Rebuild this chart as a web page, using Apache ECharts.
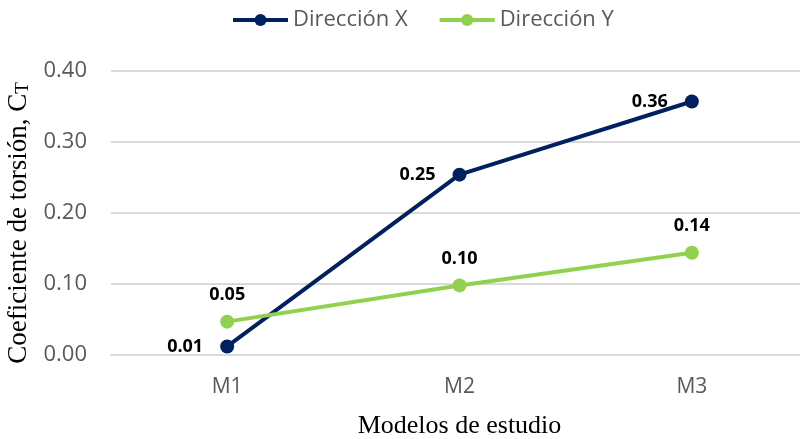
<!DOCTYPE html>
<html>
<head>
<meta charset="utf-8">
<script src="https://cdn.jsdelivr.net/npm/echarts@6/dist/echarts.min.js"></script>
<style>
  html, body { margin: 0; padding: 0; background: #fff; }
  #chart { width: 800px; height: 439px; }
</style>
</head>
<body>
<div id="chart"></div>
<script>
// datos
const modelos = ['M1', 'M2', 'M3'];
const direccionX = [0.012, 0.254, 0.357];
const direccionY = [0.047, 0.098, 0.144];
const yTicks = [0, 0.1, 0.2, 0.3, 0.4];

const chart = echarts.init(document.getElementById('chart'));

const labelStyle = {
  show: true,
  fontFamily: 'Open Sans',
  fontWeight: 'bold',
  fontSize: 18,
  color: '#000000',
  formatter: p => p.value.toFixed(2),
};

chart.setOption({
  animation: false,
  legend: {
    top: 4,
    left: 226,
    itemWidth: 55,
    itemHeight: 15,
    itemGap: 30,
    lineStyle: { width: 4 },
    textStyle: {
      fontFamily: 'Open Sans',
      fontSize: 22,
      color: '#595959',
    },
    data: ['Dirección X', 'Dirección Y'],
  },
  grid: {
    left: 111,
    right: -8,
    top: 71,
    bottom: 84,
    outerBoundsMode: 'none',
  },
  xAxis: {
    type: 'category',
    data: modelos,
    boundaryGap: true,
    axisTick: { show: false },
    axisLine: { lineStyle: { color: '#d9d9d9', width: 2 } },
    axisLabel: {
      fontFamily: 'Open Sans',
      fontSize: 21,
      color: '#595959',
      margin: 22,
    },
    name: 'Modelos de estudio',
    nameLocation: 'middle',
    nameGap: 58,
    nameTextStyle: {
      fontFamily: 'Liberation Serif',
      fontSize: 26,
      color: '#000000',
    },
  },
  yAxis: {
    type: 'value',
    min: yTicks[0],
    max: yTicks[yTicks.length - 1],
    interval: 0.1,
    axisLine: { show: false },
    axisTick: { show: false },
    splitLine: { lineStyle: { color: '#d9d9d9', width: 2 } },
    axisLabel: {
      fontFamily: 'Open Sans',
      fontSize: 22,
      color: '#595959',
      margin: 24,
      formatter: v => v.toFixed(2),
    },
    name: '{a|Coeficiente de torsión, C}{b|T}',
    nameLocation: 'middle',
    nameGap: 77,
    nameTextStyle: {
      padding: [0, 20, 0, 0],
      rich: {
        a: { fontFamily: 'Liberation Serif', fontSize: 27, color: '#000000' },
        b: { fontFamily: 'Liberation Serif', fontSize: 19, color: '#000000', verticalAlign: 'bottom' },
      },
    },
  },
  series: [
    {
      name: 'Dirección X',
      type: 'line',
      data: direccionX,
      symbol: 'circle',
      symbolSize: 14,
      lineStyle: { color: '#002060', width: 4 },
      itemStyle: { color: '#002060' },
      label: Object.assign({}, labelStyle, { position: 'left', distance: 17 }),
    },
    {
      name: 'Dirección Y',
      type: 'line',
      data: direccionY,
      symbol: 'circle',
      symbolSize: 14,
      lineStyle: { color: '#92d050', width: 4 },
      itemStyle: { color: '#92d050' },
      label: Object.assign({}, labelStyle, { position: 'top', distance: 11 }),
    },
  ],
});
</script>
</body>
</html>
